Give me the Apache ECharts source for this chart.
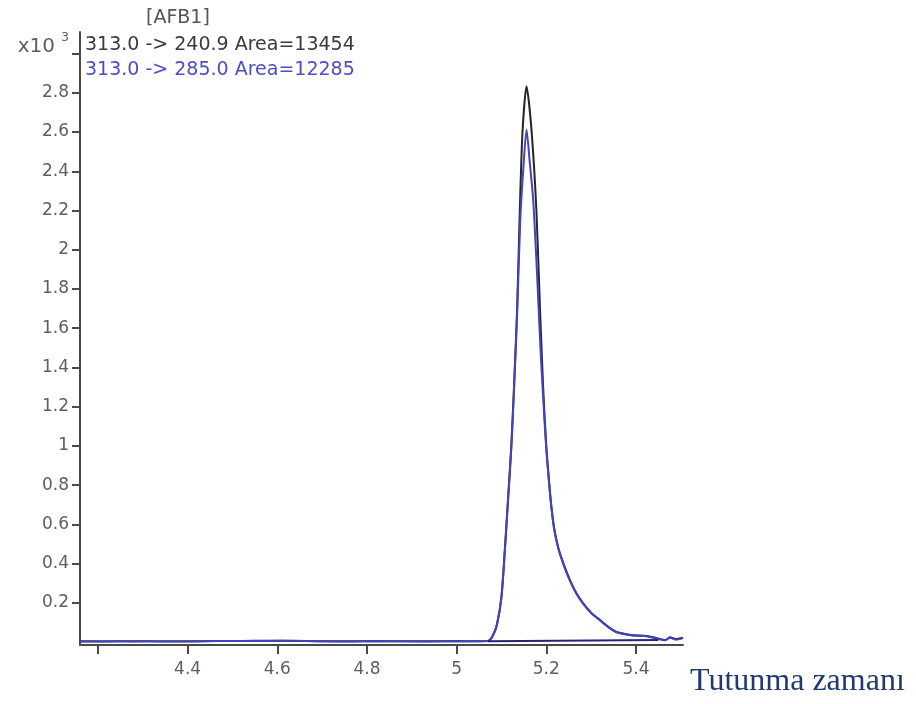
<!DOCTYPE html>
<html>
<head>
<meta charset="utf-8">
<script src="https://cdn.jsdelivr.net/npm/echarts@6/dist/echarts.min.js"></script>
<style>
  html, body { margin: 0; padding: 0; background: #ffffff; }
  #chart { width: 916px; height: 704px; }
</style>
</head>
<body>
<div id="chart"></div>
<script>
// ---- data (retention time in min, response x10^3) ----
var seriesNames = ['313.0 -> 240.9', '313.0 -> 285.0'];
var seriesAreas = [13454, 12285];

var timeBlack = [4.16, 4.22, 4.28, 4.34, 4.40, 4.46, 4.52, 4.58, 4.64, 4.70, 4.76, 4.82, 4.88, 4.94, 5.00, 5.04, 5.07,
  5.080, 5.090, 5.100, 5.108, 5.115, 5.122, 5.128, 5.135, 5.141, 5.147, 5.156, 5.167, 5.178, 5.186, 5.193, 5.200, 5.207,
  5.212, 5.218, 5.227, 5.240, 5.253, 5.267, 5.282, 5.300, 5.320, 5.340, 5.357, 5.389, 5.424, 5.446, 5.465, 5.476, 5.489, 5.505];
var respBlack = [0.004, 0.003, 0.004, 0.003, 0.004, 0.005, 0.006, 0.007, 0.006, 0.004, 0.004, 0.005, 0.004, 0.004, 0.005, 0.004, 0.006,
  0.030, 0.090, 0.230, 0.485, 0.740, 1.000, 1.300, 1.700, 2.200, 2.600, 2.833, 2.612, 2.200, 1.700, 1.300, 1.000, 0.800,
  0.680, 0.575, 0.480, 0.390, 0.316, 0.250, 0.199, 0.150, 0.112, 0.075, 0.051, 0.036, 0.031, 0.020, 0.010, 0.024, 0.015, 0.022];

var timeBlue = [4.16, 4.22, 4.28, 4.34, 4.40, 4.46, 4.52, 4.58, 4.64, 4.70, 4.76, 4.82, 4.88, 4.94, 5.00, 5.04, 5.07,
  5.080, 5.090, 5.100, 5.108, 5.115, 5.122, 5.128, 5.135, 5.142, 5.149, 5.156, 5.163, 5.171, 5.180, 5.187, 5.193, 5.200, 5.207,
  5.212, 5.218, 5.227, 5.240, 5.253, 5.267, 5.282, 5.300, 5.320, 5.340, 5.357, 5.389, 5.424, 5.446, 5.465, 5.476, 5.489, 5.505];
var respBlue = [0.003, 0.004, 0.003, 0.004, 0.003, 0.005, 0.005, 0.006, 0.007, 0.004, 0.003, 0.005, 0.004, 0.003, 0.004, 0.004, 0.005,
  0.028, 0.088, 0.225, 0.478, 0.730, 0.985, 1.280, 1.670, 2.150, 2.420, 2.612, 2.450, 2.250, 1.850, 1.500, 1.250, 0.985, 0.790,
  0.672, 0.570, 0.476, 0.386, 0.312, 0.247, 0.196, 0.148, 0.110, 0.073, 0.050, 0.035, 0.030, 0.018, 0.009, 0.022, 0.012, 0.020];

// integration baseline under the peak
var baseTime = [5.07, 5.45];
var baseResp = [0.004, 0.010];

var xTickValues = [4.2, 4.4, 4.6, 4.8, 5.0, 5.2, 5.4];
var xLabelValues = [4.4, 4.6, 4.8, 5.0, 5.2, 5.4];
var yTickValues = [0.2, 0.4, 0.6, 0.8, 1.0, 1.2, 1.4, 1.6, 1.8, 2.0, 2.2, 2.4, 2.6, 2.8, 3.0];
var yLabelValues = [0.2, 0.4, 0.6, 0.8, 1.0, 1.2, 1.4, 1.6, 1.8, 2.0, 2.2, 2.4, 2.6, 2.8, 3.0];
var yExponentTick = 3.0;

function pairs(xs, ys) {
  var out = [];
  for (var i = 0; i < xs.length; i++) out.push([xs[i], ys[i]]);
  return out;
}

var FONT = 'DejaVu Sans';
var LABEL_COLOR = '#5e5e5e';
var chart = echarts.init(document.getElementById('chart'), null, { renderer: 'canvas' });

chart.setOption({
  backgroundColor: '#ffffff',
  animation: false,
  title: {
    text: '[AFB1]',
    left: 141,
    top: 4,
    textStyle: { fontFamily: FONT, fontSize: 19, fontWeight: 'normal', color: '#555555' }
  },
  legend: {
    orient: 'vertical',
    left: 75,
    top: 30,
    itemWidth: 0,
    itemHeight: 0,
    itemGap: 4,
    selectedMode: false,
    formatter: function (name) {
      return name + ' Area=' + seriesAreas[seriesNames.indexOf(name)];
    },
    textStyle: { fontFamily: FONT, fontSize: 19, lineHeight: 21 },
    data: [
      { name: seriesNames[0], icon: 'rect', textStyle: { color: '#3a3a3a' } },
      { name: seriesNames[1], icon: 'rect', textStyle: { color: '#4d4dc4' } }
    ]
  },
  grid: { left: 80, right: 233, top: 32, bottom: 59, containLabel: false },
  xAxis: {
    type: 'value',
    min: 4.16,
    max: 5.505,
    name: 'Tutunma zamanı',
    nameLocation: 'end',
    nameGap: 7,
    nameTextStyle: {
      fontFamily: 'Liberation Serif',
      fontSize: 32,
      color: '#1f3a70',
      verticalAlign: 'top',
      padding: [21, 0, 0, 0]
    },
    axisLine: { show: true, onZero: false, lineStyle: { color: '#4a4a4a', width: 2 } },
    axisTick: { show: true, length: 9, customValues: xTickValues, lineStyle: { color: '#4a4a4a', width: 2 } },
    axisLabel: {
      customValues: xLabelValues,
      margin: 16,
      fontFamily: FONT,
      fontSize: 17,
      color: LABEL_COLOR
    },
    splitLine: { show: false }
  },
  yAxis: {
    type: 'value',
    min: -0.015,
    max: 3.11,
    axisLine: { show: true, onZero: false, lineStyle: { color: '#4a4a4a', width: 2 } },
    axisTick: { show: true, length: 8, customValues: yTickValues, lineStyle: { color: '#4a4a4a', width: 2 } },
    axisLabel: {
      customValues: yLabelValues,
      margin: 11,
      fontFamily: FONT,
      fontSize: 17,
      color: LABEL_COLOR,
      formatter: function (v) {
        if (Math.abs(v - yExponentTick) < 1e-9) return '{x|x10 }{s|3}\n{e| }';
        return String(Math.round(v * 10) / 10);
      },
      rich: {
        x: { fontFamily: FONT, fontSize: 20, color: LABEL_COLOR, lineHeight: 30, verticalAlign: 'middle' },
        s: { fontFamily: FONT, fontSize: 12, color: LABEL_COLOR, lineHeight: 30, verticalAlign: 'top' },
        e: { fontSize: 10, lineHeight: 14 }
      }
    },
    splitLine: { show: false }
  },
  series: [
    {
      name: seriesNames[0],
      type: 'line',
      data: pairs(timeBlack, respBlack),
      showSymbol: false,
      smooth: 0.25,
      lineStyle: { color: '#262626', width: 2 },
      itemStyle: { color: '#262626' },
      z: 2
    },
    {
      name: seriesNames[1],
      type: 'line',
      data: pairs(timeBlue, respBlue),
      showSymbol: false,
      smooth: 0.25,
      lineStyle: { color: '#4343c2', width: 2 },
      itemStyle: { color: '#4343c2' },
      z: 3
    },
    {
      name: 'baseline',
      type: 'line',
      data: pairs(baseTime, baseResp),
      showSymbol: false,
      lineStyle: { color: '#23237a', width: 2 },
      z: 4
    }
  ]
});
</script>
</body>
</html>
